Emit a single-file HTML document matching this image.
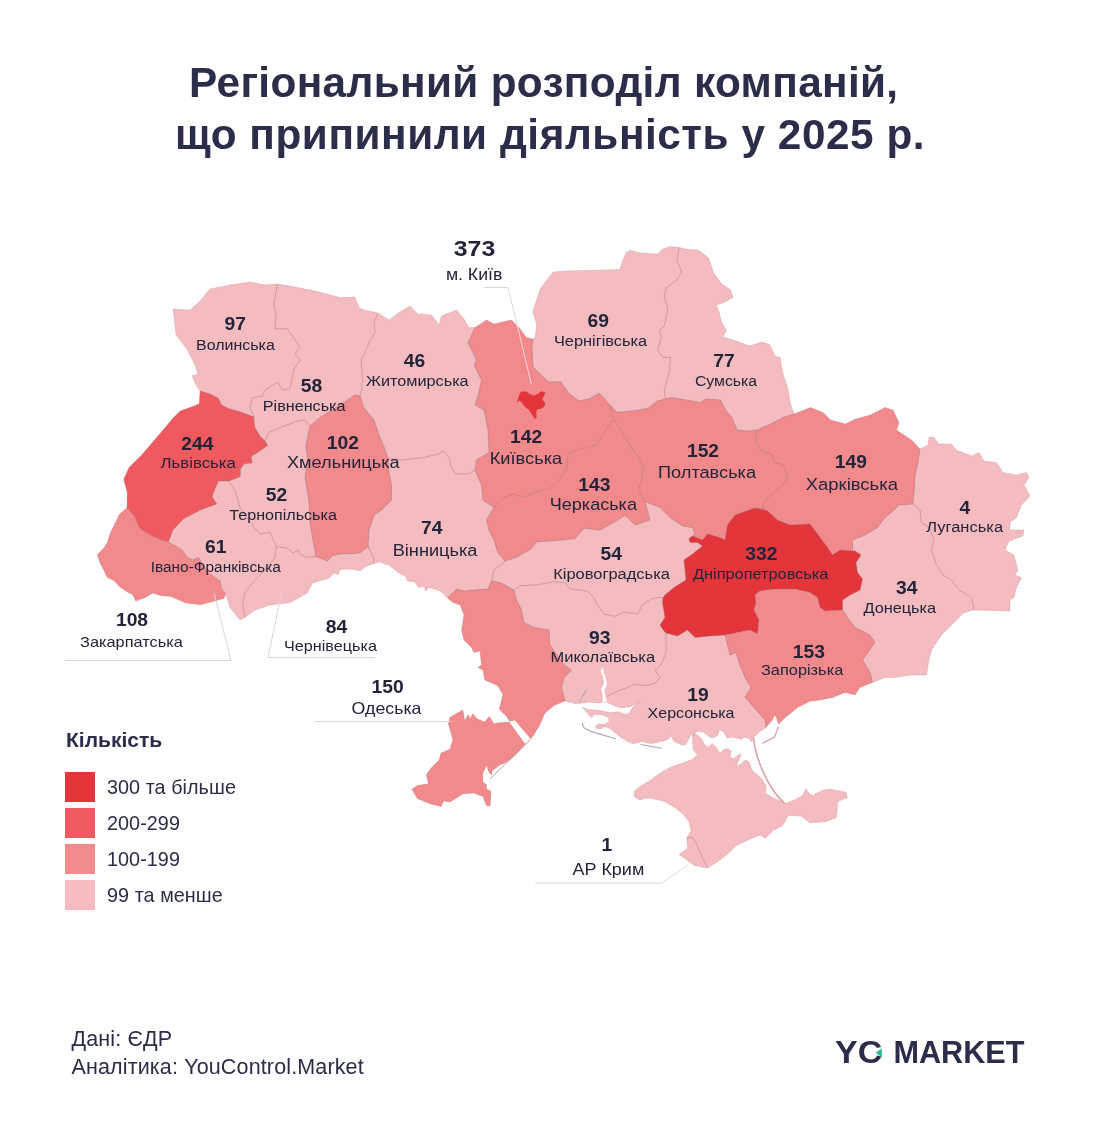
<!DOCTYPE html>
<html lang="uk"><head><meta charset="utf-8"><title>Регіональний розподіл компаній</title>
<style>
html,body{margin:0;padding:0;background:#fff;}
body{width:1098px;height:1130px;position:relative;overflow:hidden;font-family:"Liberation Sans","DejaVu Sans",sans-serif;color:#2a2d47;}
h1 span{position:absolute;white-space:nowrap;display:block;}
h1{position:absolute;left:0;top:56.7px;width:1098px;margin:0;font-size:42.3px;line-height:52px;font-weight:bold;color:#2b2e4a;letter-spacing:0.65px;}
svg.map{position:absolute;left:0;top:0;}
svg.map text{font-family:"Liberation Sans","DejaVu Sans",sans-serif;fill:#23243a;}
svg.map text.n{font-weight:bold;}

.lt{position:absolute;left:66px;top:727.5px;font-size:21px;font-weight:bold;color:#2b2e4a;line-height:24px;}
.sw{position:absolute;left:65px;width:30px;height:30px;}
.sl{position:absolute;left:107px;font-size:19.8px;line-height:22px;color:#2a2d47;letter-spacing:.05px;margin-top:-.2px;}
.ft{position:absolute;left:71.5px;font-size:21.5px;line-height:24px;color:#2a2d47;letter-spacing:.14px;white-space:nowrap;}
</style></head><body>
<h1><span style="left:189px;top:0;letter-spacing:.35px">Регіональний розподіл компаній,</span><span style="left:175px;top:52px;letter-spacing:.55px">що припинили діяльність у 2025 р.</span></h1>
<svg class="map" width="1098" height="1130" viewBox="0 0 1098 1130">
<path d="M173,309 L190,310 L200,301 L210,289 L230,285 L250,282 L265,285 L277.5,284 L290,286 L315,291 L340,297.5 L355,297 L359,307.5 L364,310 L378,313 L389,320 L399,312.5 L410,306 L418,314 L431.5,315 L439,325 L441.5,316 L456.5,310 L464,319 L469,327.5 L475,327.5 L486.5,320 L494,324 L511.5,320 L519,327.5 L526.5,337.5 L533,339 L535.3,337 L536.6,324.3 L532.8,311.5 L537.9,296.2 L540.4,288.6 L548,278.4 L553.2,272 L571,270.7 L596.5,270.2 L619.5,269.4 L622,263 L625.8,252.9 L629.7,250.3 L639.9,252.9 L657.7,254.1 L662.8,249 L670.5,246.5 L679,247.5 L685.8,249 L698.5,250.3 L708.7,258 L713.8,273.3 L721.5,283.5 L730.4,289.8 L733,297.5 L724,302.6 L716.4,305.1 L718.9,311.5 L721.5,321.7 L726.6,330.6 L722.8,337 L731.7,339.6 L749.5,345.9 L762.3,342.1 L769.9,344.7 L775,356.1 L780.1,357.4 L782.7,372.7 L787.8,388 L790.3,403.3 L794,414 L810.5,407.5 L823,412.5 L830.5,420 L845.5,424 L855.5,419 L870.5,415 L885,407.5 L893,410 L899,422.5 L896.5,430 L911.5,440 L920,449 L928,445 L929,437 L934,437.5 L939,444 L951.5,444 L956.5,450 L971.5,456 L979,452.5 L984,461 L996.5,462.5 L1003,472.5 L1016.5,475 L1026.5,472.5 L1029,477.5 L1024,485 L1030,496 L1021.5,505 L1016.5,517.5 L1010,522.5 L1010,530 L1024,530 L1023,536 L1009,541 L1005,550 L1014,555 L1018,570 L1015,575 L1021.5,577.5 L1016.5,587.5 L1014,597.5 L1010,600 L1010,611 L974,610 L964,612.5 L941.5,635 L931.5,650 L929,660 L926.5,675 L911.5,675 L894,677.5 L885,677.5 L872.5,682.5 L860,687.5 L855,695 L845,692.5 L832.5,697.5 L820,700 L810,701.3 L797.5,707.6 L784.8,717.9 L778.4,724.2 L776.5,717.8 L774.6,715.3 L772,720.4 L766,727.5 L759.3,731.9 L754.2,737 L752.9,738.2 L751.6,742 L749,738.2 L744,737 L741.4,739.5 L737.6,738.2 L731.2,737 L727.4,738.2 L723.5,731.9 L719.7,730 L717.2,735.7 L712,738.2 L701.9,731.2 L695.5,731.9 L695,735 L693,735.8 L691.6,732.9 L688.6,739.4 L685.7,744.5 L682.8,745.2 L674.1,741.6 L671.1,735.8 L668.2,739.4 L661,741.6 L650.7,743.8 L642,741.6 L633.3,743.8 L627.4,741.6 L618.7,735.8 L610,728.5 L604.1,726.3 L602.7,728.5 L596.8,728.5 L595.4,726.3 L598.3,724.1 L605.6,724.1 L609.2,721.2 L608.5,717.6 L601.2,714.6 L593.9,714.6 L591.7,717.6 L589.5,715.4 L583.7,708.8 L582.3,707.4 L588,709.5 L598.3,710.3 L610,712.5 L618.7,711.7 L624.5,714.6 L628.9,713.2 L633.3,706.6 L640.5,701.5 L636.2,703.7 L630.3,706.6 L621.6,708 L615.8,706.6 L610,703.7 L607,702.3 L602.7,702.3 L598.3,703 L588,702.3 L583.7,703 L575,703.7 L565,701 L554,705.5 L545,713 L539.5,725.5 L534,734.5 L530,740 L525,744 L517.5,753 L511,759 L506.5,762 L499,765.5 L492,771 L492,774.7 L489.3,772.9 L486.5,765.6 L482.9,772.9 L482.9,782 L486.5,784.7 L486.5,789.3 L491,791 L490.2,805.7 L486.5,805.7 L482.9,796.6 L473.8,792.9 L462.9,793.8 L450,802 L443.7,801 L441,806.6 L430,803.8 L417.3,798.4 L411.9,789.3 L417.3,785.6 L428.3,783.8 L426.4,774.7 L431,768.3 L439.2,760 L441,752.9 L450,749.2 L452.8,740 L451,732.8 L448.3,723.7 L450,717.3 L462.9,710 L464.7,721 L468.3,714.6 L470,719 L472.9,713.7 L477.4,719 L484.7,722 L489.3,716.4 L493.8,723.7 L499.3,722.8 L510.2,722 L506.6,716.4 L499.3,709 L503,694.6 L497.5,685.5 L484.7,680 L483,670 L478,667.5 L481.5,665 L480,651 L474,652.5 L471.5,647.5 L464,640 L461.5,630 L464,615 L460,605 L453,602.5 L447.6,598 L440.3,591 L429.4,587.4 L425.7,591 L423.9,586.5 L418.4,587.4 L414.8,582 L407.5,581 L405.7,576.5 L398.4,572.8 L389.3,565.5 L379.3,562 L373.3,563.7 L365.6,566.4 L360,571 L352.9,569.2 L340,569.2 L338.3,574.6 L334.6,572.8 L329.2,578.3 L312.8,582.8 L307.3,592.9 L298.2,598.3 L290,602.5 L270,605 L255,610 L245,617.5 L240,620 L230,607.5 L225.7,593.8 L223.9,598.4 L214.8,601.1 L200.2,604.8 L185.6,602.9 L171.1,596.6 L160.1,595.6 L152.9,592.9 L145.6,597.5 L135.6,601.1 L132.8,594.7 L127.4,592 L119.2,586.5 L114.6,581.1 L107.3,577.4 L103.7,570.1 L100,562.9 L97.3,554.7 L103.7,548.3 L107.3,542.8 L110,533.7 L114.6,524.6 L119.2,514.6 L127,507.5 L127.3,493 L123.7,479.3 L129.1,467.4 L141.9,454.7 L152.8,441.9 L163.8,429.2 L172.9,418.3 L180.1,411 L192.9,406.4 L199.3,403.7 L200,391 L196,385 L192,375.5 L198,374.5 L195,365 L187.5,350 L176,335 L175,325 L173,309Z" fill="#f4bcbe"/>
<path d="M693,735 L697.4,734.4 L701.9,739.5 L704.4,744.6 L708.3,747.2 L712,743.4 L717.2,748.5 L719.7,753.6 L723.5,749.7 L727.4,748.5 L731.2,751 L730,757.4 L733.7,758.7 L738.8,754.8 L741.4,753.6 L736.3,766.3 L741.4,763.8 L745.2,760 L749,762 L751.6,768.9 L753.3,771.5 L762.1,779.2 L766.4,786.8 L765.4,793.4 L773,797.8 L786.1,803.2 L794.9,799.9 L802.5,795.6 L805.8,788.6 L808,792.3 L812.3,795.6 L823.3,790.1 L829.8,789 L846.2,792.3 L847.3,797.8 L838.6,801 L837.5,804.3 L836.4,817.4 L825.5,821.8 L810.2,822.9 L801.4,816.3 L788.3,815.2 L785,821.8 L781.7,826.2 L773,830.5 L765.4,838.2 L759.9,834.9 L746.8,840.4 L735.8,845.8 L727.1,854.6 L718.4,861.1 L707.4,868.1 L694.3,865.5 L685.6,859 L679,854.6 L687.8,848 L686.7,838.2 L691,830.5 L688.9,821.8 L683.4,814.2 L674.6,807.6 L663.7,801 L648.4,797.8 L639.7,799.9 L634.2,796.7 L634.2,791.2 L639.7,786.8 L648.4,781.4 L659.3,773.7 L667,769.3 L670.3,767.2 L683.4,762.8 L692.1,759.5 L697.6,755.1 L693.2,749.7 L692.1,734.4Z" fill="#f4bcbe"/>
<path d="M200,391 L209.3,393.7 L218.4,398.2 L221.1,404.6 L227.5,408.2 L240.3,411.9 L247.5,414.6 L254,417 L253.9,419.2 L254.8,427.4 L260.3,436.5 L265,441 L267.6,445.6 L258.5,451.9 L251.2,456.5 L252.1,462.9 L243.9,463.8 L240.3,469.3 L240.3,476.5 L231.1,480.2 L228.8,481 L218.4,481.1 L214.8,489.3 L212,496.6 L216.6,503.9 L202,509.3 L183.8,518.4 L172.9,530 L168.3,541.9 L160.1,539.2 L152.9,536.4 L141.9,530 L138.3,525.7 L134.6,516.5 L127,507.5 L127.3,493 L123.7,479.3 L129.1,467.4 L141.9,454.7 L152.8,441.9 L163.8,429.2 L172.9,418.3 L180.1,411 L192.9,406.4 L199.3,403.7 L200,391Z" fill="#f05a5e"/>
<path d="M127,507.5 L134.6,516.5 L138.3,525.7 L141.9,530 L152.9,536.4 L160.1,539.2 L168.3,541.9 L176.5,546.5 L182,550.1 L187.5,557.4 L192.9,560.1 L198.4,557.4 L202,562.9 L207.5,572 L214.8,577.4 L220.3,581.1 L221.2,588.4 L225.7,593.8 L223.9,598.4 L214.8,601.1 L200.2,604.8 L185.6,602.9 L171.1,596.6 L160.1,595.6 L152.9,592.9 L145.6,597.5 L135.6,601.1 L132.8,594.7 L127.4,592 L119.2,586.5 L114.6,581.1 L107.3,577.4 L103.7,570.1 L100,562.9 L97.3,554.7 L103.7,548.3 L107.3,542.8 L110,533.7 L114.6,524.6 L119.2,514.6 L127,507.5Z" fill="#f28a8c"/>
<path d="M310,426 L320,417.5 L340,405 L355,395 L360,396 L364,408 L374,420 L379,435 L384,447 L388,458 L389,472.5 L391.5,485 L391.5,500 L381.5,510 L374,515 L369,530 L368,545 L369,548 L367.4,547.3 L360,552.8 L352.9,553.7 L342,553.7 L332.8,555.5 L327.4,561 L316,556.4 L313.8,545 L310,522.5 L308.8,500 L305,477.5 L307.5,460 L306,445 L310,426Z" fill="#f28a8c"/>
<path d="M475,327.5 L486.5,320 L494,324 L511.5,320 L519,327.5 L526.5,337.5 L533,339 L532,348 L533,367 L544.2,377.8 L549,382 L560.8,381.6 L568.5,393.1 L578.7,400.8 L589,399 L599.1,393.1 L604.2,398.2 L610,405 L614,420 L610,422.5 L603,435 L596.5,445 L581.5,448.8 L568,453.8 L566.5,470 L559,480 L549,488.8 L534,492.5 L524,497.5 L514,493.8 L504,497.5 L494,507.5 L483,500 L481.5,485 L475,470 L476.5,460 L489,452.5 L488,430 L484,410 L475,405 L478,396 L481.5,380 L474,365 L476.5,360 L468,342.5 L475,327.5Z" fill="#f28a8c"/>
<path d="M494,507.5 L504,497.5 L514,493.8 L524,497.5 L534,492.5 L549,488.8 L559,480 L566.5,470 L568,453.8 L581.5,448.8 L596.5,445 L603,435 L610,422.5 L614,420 L624,435 L631.5,447.5 L638.5,457.5 L643,465 L642,480 L638,490 L645,501.5 L650.1,519.8 L635.5,525 L625,515.6 L616.6,520.8 L599.9,530.3 L584.2,528.2 L574.7,538.7 L553.8,540.7 L537,541.8 L530.7,549.1 L516.1,557.5 L505,561 L497.5,552 L494,540 L489,530 L486.5,520 L494,507.5Z" fill="#f28a8c"/>
<path d="M614,420 L610,405 L616.9,412.3 L632.2,411 L647.5,408.4 L657.7,400.8 L665.5,399 L672,397.5 L700.5,402.5 L705.5,399 L720.5,400 L725.5,410 L732,417.5 L737,430 L748,431 L757,430 L755.5,442.5 L760.5,450 L773,455 L774,462.5 L783,465 L788,477.5 L780.5,487.5 L768,497.5 L763,505 L763,509.5 L755,508 L735,515 L727.5,525 L725,540 L720,537.5 L707.5,534 L702.5,540 L692.5,536 L695,534 L692.5,527.5 L682.5,526 L670,517.5 L660,507.5 L645,501.5 L638,490 L642,480 L643,465 L638.5,457.5 L631.5,447.5 L624,435 L614,420Z" fill="#f28a8c"/>
<path d="M757,430 L770.5,424 L783,417.5 L794,414 L810.5,407.5 L823,412.5 L830.5,420 L845.5,424 L855.5,419 L870.5,415 L885,407.5 L893,410 L899,422.5 L896.5,430 L911.5,440 L920,449 L918,462.5 L915,475 L914,492.5 L913,504 L899,505 L894,510 L885,517.5 L877.5,527.5 L865,535 L852.5,540 L852.5,551 L840,550 L832.5,555 L827.5,547.5 L817.5,534 L810,524 L790,525 L777.5,520 L767.5,511 L763,509.5 L763,505 L768,497.5 L780.5,487.5 L788,477.5 L783,465 L774,462.5 L773,455 L760.5,450 L755.5,442.5 L757,430Z" fill="#f28a8c"/>
<path d="M692.5,536 L702.5,540 L707.5,534 L720,537.5 L725,540 L727.5,525 L735,515 L755,508 L763,509.5 L767.5,511 L777.5,520 L790,525 L810,524 L817.5,534 L827.5,547.5 L832.5,555 L840,550 L852.5,551 L855,551 L861,555 L856,562.5 L857.5,572.5 L862.5,579 L860,590 L850,595 L842.5,600 L842.5,610 L825,611 L820,607.5 L817.5,597.5 L810,592.5 L795,589 L775,589 L760,591 L755,595 L756,602.5 L754,610 L759,620 L757.5,634 L750,630 L737.5,632.5 L725,635 L710,636 L695,637.5 L687.5,630 L677.5,636 L666,633 L664,631 L660,625 L665,617.5 L662.5,602.5 L663,598 L665,595 L674,587.5 L686,580 L684,560 L692.5,554 L702.5,546 L697.5,542.5 L690,542.5 L688.8,538.8 L692.5,536Z" fill="#e3353a"/>
<path d="M725,635 L737.5,632.5 L750,630 L757.5,634 L759,620 L754,610 L756,602.5 L755,595 L760,591 L775,589 L795,589 L810,592.5 L817.5,597.5 L820,607.5 L825,611 L842.5,610 L847.5,617.5 L855,627.5 L870,635 L875,642.5 L862.5,660 L870,672.5 L872.5,682.5 L860,687.5 L855,695 L845,692.5 L832.5,697.5 L820,700 L810,701.3 L797.5,707.6 L784.8,717.9 L778.4,724.2 L776.5,717.8 L774.6,715.3 L772,720.4 L766,727.5 L765,720 L754,707.5 L745,697 L751,687.5 L745,677.5 L740,665 L736,652.5 L730,655 L725,635Z" fill="#f28a8c"/>
<path d="M447.6,598 L456.5,589 L464,591 L474,590 L488,589 L491.5,581 L500,582.5 L514,590 L516.5,600 L521.5,610 L524,622.5 L534,627.5 L549,630 L550,645 L564,665 L571.5,670 L564,677.5 L561.5,687.5 L565,701 L554,705.5 L545,713 L539.5,725.5 L534,734.5 L530,740 L525,744 L517.5,753 L511,759 L506.5,762 L499,765.5 L492,771 L492,774.7 L489.3,772.9 L486.5,765.6 L482.9,772.9 L482.9,782 L486.5,784.7 L486.5,789.3 L491,791 L490.2,805.7 L486.5,805.7 L482.9,796.6 L473.8,792.9 L462.9,793.8 L450,802 L443.7,801 L441,806.6 L430,803.8 L417.3,798.4 L411.9,789.3 L417.3,785.6 L428.3,783.8 L426.4,774.7 L431,768.3 L439.2,760 L441,752.9 L450,749.2 L452.8,740 L451,732.8 L448.3,723.7 L450,717.3 L462.9,710 L464.7,721 L468.3,714.6 L470,719 L472.9,713.7 L477.4,719 L484.7,722 L489.3,716.4 L493.8,723.7 L499.3,722.8 L510.2,722 L506.6,716.4 L499.3,709 L503,694.6 L497.5,685.5 L484.7,680 L483,670 L478,667.5 L481.5,665 L480,651 L474,652.5 L471.5,647.5 L464,640 L461.5,630 L464,615 L460,605 L453,602.5 L447.6,598Z" fill="#f28a8c"/>
<path d="M516.6,403 L519.1,395.4 L521,391.6 L526.8,391.6 L530,394.1 L534.4,395.4 L538.2,393.5 L541.4,391.3 L545.9,392.8 L544.6,394.8 L542.1,399.2 L545.3,403 L544,406.9 L540.8,408.8 L537,409.4 L536.3,413.2 L536.6,418.3 L534.7,419 L531.9,414.5 L528.7,409.4 L526.1,408.1 L523.6,405 L521,401.8 L519.1,400.5Z" fill="#e3353a"/>
<path d="M602.7,702.8 L602.7,695 L601.2,689.1 L604.1,683.3 L602.7,676 L600.5,671.7 L602,668 L603.4,668.7 L603.6,673.1 L605.6,677.5 L607,684.8 L604.3,690.6 L605.6,696.4 L607,702.8Z" fill="#fff"/>
<path d="M509,721.5 L515,720.5 L531,739.5 L526,745Z" fill="#fff"/>
<path d="M277.5,284 L273.8,305 L276,313.8 L275,328.8 L287.5,328.8 L295,340 L300,347.5 L295,353.8 L300,360 L293.8,370 L290,388.8 L282.5,390 L277.5,382.5 L265,390 L262.5,396 L252.5,397.5 L250,407.5 L254,417 M200,391 L209.3,393.7 L218.4,398.2 L221.1,404.6 L227.5,408.2 L240.3,411.9 L247.5,414.6 L254,417 M254,417 L253.9,419.2 L254.8,427.4 L260.3,436.5 L265,441 M265,441 L267.6,445.6 L258.5,451.9 L251.2,456.5 L252.1,462.9 L243.9,463.8 L240.3,469.3 L240.3,476.5 L231.1,480.2 L228.8,481 M228.8,481 L218.4,481.1 L214.8,489.3 L212,496.6 L216.6,503.9 L202,509.3 L183.8,518.4 L172.9,530 L168.3,541.9 M127,507.5 L134.6,516.5 L138.3,525.7 L141.9,530 L152.9,536.4 L160.1,539.2 L168.3,541.9 M168.3,541.9 L176.5,546.5 L182,550.1 L187.5,557.4 L192.9,560.1 L198.4,557.4 L202,562.9 L207.5,572 L214.8,577.4 L220.3,581.1 L221.2,588.4 L225.7,593.8 M245,617.5 L242.5,605 L245,592.5 L255,580 L265,570 L275,557.5 L276.5,546.5 M228.8,481 L235,490 L240,507.5 L250,522.5 L260,534 L270,532.5 L276.5,546.5 M276.5,546.5 L287.3,548.2 L292.8,552.8 L298.2,550 L300,554.6 L307.3,557.3 L316,556.4 M265,441 L268.8,432.5 L280,427.5 L297.5,421 L305,420 L310,426 M310,426 L306,445 L307.5,460 L305,477.5 L308.8,500 L310,522.5 L313.8,545 L316,556.4 M316,556.4 L327.4,561 L332.8,555.5 L342,553.7 L352.9,553.7 L360,552.8 L367.4,547.3 L369,548 M369,548 L373.8,559 L373.3,563.7 M310,426 L320,417.5 L340,405 L355,395 L360,396 M378,313 L374,322.5 L375,332.5 L369,342.5 L364,355 L361,360 L362.5,380 L361,392 L360,396 M360,396 L364,408 L374,420 L379,435 L384,447 L388,458 M388,458 L389,472.5 L391.5,485 L391.5,500 L381.5,510 L374,515 L369,530 L368,545 L369,548 M388,458 L401.5,460 L424,457.5 L439,453.8 L444,451 L449,457.5 L451.5,467.5 L455,473.8 L469,473.8 L475,470 M475,327.5 L468,342.5 L476.5,360 L474,365 L481.5,380 L478,396 L475,405 L484,410 L488,430 L489,452.5 L476.5,460 L475,470 M475,470 L481.5,485 L483,500 L494,507.5 M494,507.5 L504,497.5 L514,493.8 L524,497.5 L534,492.5 L549,488.8 L559,480 L566.5,470 L568,453.8 L581.5,448.8 L596.5,445 L603,435 L610,422.5 L614,420 M614,420 L610,405 M533,339 L532,348 L533,367 L544.2,377.8 L549,382 L560.8,381.6 L568.5,393.1 L578.7,400.8 L589,399 L599.1,393.1 L604.2,398.2 L610,405 M610,405 L616.9,412.3 L632.2,411 L647.5,408.4 L657.7,400.8 L665.5,399 M679,247.5 L676.8,260.5 L681.9,272 L675.6,280.9 L666.6,287.3 L664.1,296.2 L667.9,309 L664.1,326.8 L659,330.6 L661.5,337 L657.7,349.8 L662.8,357.4 L670.5,357.4 L669.2,372.7 L664.1,390.6 L665.5,399 M665.5,399 L672,397.5 L700.5,402.5 L705.5,399 L720.5,400 L725.5,410 L732,417.5 L737,430 L748,431 L757,430 M757,430 L770.5,424 L783,417.5 L794,414 M757,430 L755.5,442.5 L760.5,450 L773,455 L774,462.5 L783,465 L788,477.5 L780.5,487.5 L768,497.5 L763,505 L763,509.5 M614,420 L624,435 L631.5,447.5 L638.5,457.5 L643,465 L642,480 L638,490 L645,501.5 M645,501.5 L660,507.5 L670,517.5 L682.5,526 L692.5,527.5 L695,534 L692.5,536 M692.5,536 L702.5,540 L707.5,534 L720,537.5 L725,540 L727.5,525 L735,515 L755,508 L763,509.5 M763,509.5 L767.5,511 L777.5,520 L790,525 L810,524 L817.5,534 L827.5,547.5 L832.5,555 L840,550 L852.5,551 M852.5,551 L852.5,540 L865,535 L877.5,527.5 L885,517.5 L894,510 L899,505 L913,504 M920,449 L918,462.5 L915,475 L914,492.5 L913,504 M913,504 L920,510 L921.5,522.5 L929,527.5 L934,540 L931.5,550 L936.5,565 L943,575 L951.5,580 L959,590 L971.5,597.5 L974,610 M852.5,551 L855,551 L861,555 L856,562.5 L857.5,572.5 L862.5,579 L860,590 L850,595 L842.5,600 L842.5,610 M842.5,610 L847.5,617.5 L855,627.5 L870,635 L875,642.5 L862.5,660 L870,672.5 L872.5,682.5 M842.5,610 L825,611 L820,607.5 L817.5,597.5 L810,592.5 L795,589 L775,589 L760,591 L755,595 L756,602.5 L754,610 L759,620 L757.5,634 L750,630 L737.5,632.5 L725,635 M725,635 L730,655 L736,652.5 L740,665 L745,677.5 L751,687.5 L745,697 L754,707.5 L765,720 L766,727.5 M725,635 L710,636 L695,637.5 L687.5,630 L677.5,636 L666,633 M666,633 L664,631 L660,625 L665,617.5 L662.5,602.5 L663,598 M663,598 L665,595 L674,587.5 L686,580 L684,560 L692.5,554 L702.5,546 L697.5,542.5 L690,542.5 L688.8,538.8 L692.5,536 M666,633 L666,652.5 L661,665 L655,670 L660,677.5 L656.6,681.9 L650.7,684.8 L642,685.5 L634.7,684 L627.4,687.7 L618.7,690.6 L610,695 L607,696.4 M663,598 L658.5,597.3 L650.1,599.4 L641.8,605.7 L637.6,614 L625,612 L614.5,616.2 L604,614 L597.8,605.7 L593.6,597.3 L587.3,591 L570.5,588.9 L564.3,582.6 L553.8,581.6 L539.1,584.7 L520.3,585.8 L514,590 M514,590 L516.5,600 L521.5,610 L524,622.5 L534,627.5 L549,630 L550,645 L564,665 L571.5,670 L564,677.5 L561.5,687.5 L565,701 M514,590 L500,582.5 L491.5,581 M447.6,598 L456.5,589 L464,591 L474,590 L488,589 L491.5,581 M491.5,581 L494,570 L504,562.5 L505,561 M494,507.5 L486.5,520 L489,530 L494,540 L497.5,552 L505,561 M505,561 L516.1,557.5 L530.7,549.1 L537,541.8 L553.8,540.7 L574.7,538.7 L584.2,528.2 L599.9,530.3 L616.6,520.8 L625,515.6 L635.5,525 L650.1,519.8 L645,501.5" fill="none" stroke="#8a6a74" stroke-opacity=".55" stroke-width=".7" stroke-linejoin="round"/>
<path d="M173,309 L190,310 L200,301 L210,289 L230,285 L250,282 L265,285 L277.5,284 L290,286 L315,291 L340,297.5 L355,297 L359,307.5 L364,310 L378,313 L389,320 L399,312.5 L410,306 L418,314 L431.5,315 L439,325 L441.5,316 L456.5,310 L464,319 L469,327.5 L475,327.5 L486.5,320 L494,324 L511.5,320 L519,327.5 L526.5,337.5 L533,339 L535.3,337 L536.6,324.3 L532.8,311.5 L537.9,296.2 L540.4,288.6 L548,278.4 L553.2,272 L571,270.7 L596.5,270.2 L619.5,269.4 L622,263 L625.8,252.9 L629.7,250.3 L639.9,252.9 L657.7,254.1 L662.8,249 L670.5,246.5 L679,247.5 L685.8,249 L698.5,250.3 L708.7,258 L713.8,273.3 L721.5,283.5 L730.4,289.8 L733,297.5 L724,302.6 L716.4,305.1 L718.9,311.5 L721.5,321.7 L726.6,330.6 L722.8,337 L731.7,339.6 L749.5,345.9 L762.3,342.1 L769.9,344.7 L775,356.1 L780.1,357.4 L782.7,372.7 L787.8,388 L790.3,403.3 L794,414 L810.5,407.5 L823,412.5 L830.5,420 L845.5,424 L855.5,419 L870.5,415 L885,407.5 L893,410 L899,422.5 L896.5,430 L911.5,440 L920,449 L928,445 L929,437 L934,437.5 L939,444 L951.5,444 L956.5,450 L971.5,456 L979,452.5 L984,461 L996.5,462.5 L1003,472.5 L1016.5,475 L1026.5,472.5 L1029,477.5 L1024,485 L1030,496 L1021.5,505 L1016.5,517.5 L1010,522.5 L1010,530 L1024,530 L1023,536 L1009,541 L1005,550 L1014,555 L1018,570 L1015,575 L1021.5,577.5 L1016.5,587.5 L1014,597.5 L1010,600 L1010,611 L974,610 L964,612.5 L941.5,635 L931.5,650 L929,660 L926.5,675 L911.5,675 L894,677.5 L885,677.5 L872.5,682.5 L860,687.5 L855,695 L845,692.5 L832.5,697.5 L820,700 L810,701.3 L797.5,707.6 L784.8,717.9 L778.4,724.2 L776.5,717.8 L774.6,715.3 L772,720.4 L766,727.5 L759.3,731.9 L754.2,737 L752.9,738.2 L751.6,742 L749,738.2 L744,737 L741.4,739.5 L737.6,738.2 L731.2,737 L727.4,738.2 L723.5,731.9 L719.7,730 L717.2,735.7 L712,738.2 L701.9,731.2 L695.5,731.9 L695,735 L693,735.8 L691.6,732.9 L688.6,739.4 L685.7,744.5 L682.8,745.2 L674.1,741.6 L671.1,735.8 L668.2,739.4 L661,741.6 L650.7,743.8 L642,741.6 L633.3,743.8 L627.4,741.6 L618.7,735.8 L610,728.5 L604.1,726.3 L602.7,728.5 L596.8,728.5 L595.4,726.3 L598.3,724.1 L605.6,724.1 L609.2,721.2 L608.5,717.6 L601.2,714.6 L593.9,714.6 L591.7,717.6 L589.5,715.4 L583.7,708.8 L582.3,707.4 L588,709.5 L598.3,710.3 L610,712.5 L618.7,711.7 L624.5,714.6 L628.9,713.2 L633.3,706.6 L640.5,701.5 L636.2,703.7 L630.3,706.6 L621.6,708 L615.8,706.6 L610,703.7 L607,702.3 L602.7,702.3 L598.3,703 L588,702.3 L583.7,703 L575,703.7 L565,701 L554,705.5 L545,713 L539.5,725.5 L534,734.5 L530,740 L525,744 L517.5,753 L511,759 L506.5,762 L499,765.5 L492,771 L492,774.7 L489.3,772.9 L486.5,765.6 L482.9,772.9 L482.9,782 L486.5,784.7 L486.5,789.3 L491,791 L490.2,805.7 L486.5,805.7 L482.9,796.6 L473.8,792.9 L462.9,793.8 L450,802 L443.7,801 L441,806.6 L430,803.8 L417.3,798.4 L411.9,789.3 L417.3,785.6 L428.3,783.8 L426.4,774.7 L431,768.3 L439.2,760 L441,752.9 L450,749.2 L452.8,740 L451,732.8 L448.3,723.7 L450,717.3 L462.9,710 L464.7,721 L468.3,714.6 L470,719 L472.9,713.7 L477.4,719 L484.7,722 L489.3,716.4 L493.8,723.7 L499.3,722.8 L510.2,722 L506.6,716.4 L499.3,709 L503,694.6 L497.5,685.5 L484.7,680 L483,670 L478,667.5 L481.5,665 L480,651 L474,652.5 L471.5,647.5 L464,640 L461.5,630 L464,615 L460,605 L453,602.5 L447.6,598 L440.3,591 L429.4,587.4 L425.7,591 L423.9,586.5 L418.4,587.4 L414.8,582 L407.5,581 L405.7,576.5 L398.4,572.8 L389.3,565.5 L379.3,562 L373.3,563.7 L365.6,566.4 L360,571 L352.9,569.2 L340,569.2 L338.3,574.6 L334.6,572.8 L329.2,578.3 L312.8,582.8 L307.3,592.9 L298.2,598.3 L290,602.5 L270,605 L255,610 L245,617.5 L240,620 L230,607.5 L225.7,593.8 L223.9,598.4 L214.8,601.1 L200.2,604.8 L185.6,602.9 L171.1,596.6 L160.1,595.6 L152.9,592.9 L145.6,597.5 L135.6,601.1 L132.8,594.7 L127.4,592 L119.2,586.5 L114.6,581.1 L107.3,577.4 L103.7,570.1 L100,562.9 L97.3,554.7 L103.7,548.3 L107.3,542.8 L110,533.7 L114.6,524.6 L119.2,514.6 L127,507.5 L127.3,493 L123.7,479.3 L129.1,467.4 L141.9,454.7 L152.8,441.9 L163.8,429.2 L172.9,418.3 L180.1,411 L192.9,406.4 L199.3,403.7 L200,391 L196,385 L192,375.5 L198,374.5 L195,365 L187.5,350 L176,335 L175,325 L173,309Z M693,735 L697.4,734.4 L701.9,739.5 L704.4,744.6 L708.3,747.2 L712,743.4 L717.2,748.5 L719.7,753.6 L723.5,749.7 L727.4,748.5 L731.2,751 L730,757.4 L733.7,758.7 L738.8,754.8 L741.4,753.6 L736.3,766.3 L741.4,763.8 L745.2,760 L749,762 L751.6,768.9 L753.3,771.5 L762.1,779.2 L766.4,786.8 L765.4,793.4 L773,797.8 L786.1,803.2 L794.9,799.9 L802.5,795.6 L805.8,788.6 L808,792.3 L812.3,795.6 L823.3,790.1 L829.8,789 L846.2,792.3 L847.3,797.8 L838.6,801 L837.5,804.3 L836.4,817.4 L825.5,821.8 L810.2,822.9 L801.4,816.3 L788.3,815.2 L785,821.8 L781.7,826.2 L773,830.5 L765.4,838.2 L759.9,834.9 L746.8,840.4 L735.8,845.8 L727.1,854.6 L718.4,861.1 L707.4,868.1 L694.3,865.5 L685.6,859 L679,854.6 L687.8,848 L686.7,838.2 L691,830.5 L688.9,821.8 L683.4,814.2 L674.6,807.6 L663.7,801 L648.4,797.8 L639.7,799.9 L634.2,796.7 L634.2,791.2 L639.7,786.8 L648.4,781.4 L659.3,773.7 L667,769.3 L670.3,767.2 L683.4,762.8 L692.1,759.5 L697.6,755.1 L693.2,749.7 L692.1,734.4Z" fill="none" stroke="#b98a92" stroke-opacity=".5" stroke-width=".6" stroke-linejoin="round"/>
<path d="M686.7,838.2 L692.1,837.1 L696.5,843.7 L700.9,854.6 L707.4,867.7" fill="none" stroke="#8a6a74" stroke-opacity=".55" stroke-width=".7"/>
<path d="M753.5,738 Q755,756 767,780 Q775,795 784.7,803.3" fill="none" stroke="#d9a3aa" stroke-width="1.6"/>
<path d="M582.3,722.7 Q582.5,727 585.2,728.5 Q591,732 598.3,733.6 L615.8,738.7" fill="none" stroke="#b3a3b3" stroke-width="1.1"/>
<path d="M579.3,702.3 L586.6,689 M583,696 L586,692" fill="none" stroke="#b3a3b3" stroke-width=".9"/>
<path d="M640.5,744.5 L661.7,748.2" fill="none" stroke="#b3a3b3" stroke-width="1.1"/>
<path d="M762.4,743.4 L774.5,737 L778.4,726.8" fill="none" stroke="#d9a3aa" stroke-width="1.2"/>
<path d="M490,779 L530,740" fill="none" stroke="#b9a0ac" stroke-width="1"/>
<g fill="none" stroke="#d6d7dd" stroke-width="1">
<path d="M484,287.5 L508,287.5 L517.2,325"/>
<path d="M517.2,325 L531.3,384" stroke="#fbe3e4" stroke-opacity=".85"/>
<path d="M65.5,660.5 L231,660.5 L214,593"/>
<path d="M375,657.5 L268,657.5 L281,596"/>
<path d="M314,721.5 L452,721.5"/>
<path d="M535,883 L662,883 L687.5,865"/>
</g>
<text class="n" font-size="22.00" transform="translate(453.8,256.0) scale(1.13,1)">373</text>
<text class="t" font-size="16.37" transform="translate(445.9,280.0) scale(1.08,1)">м. Київ</text>
<text class="n" font-size="18.20" transform="translate(224.5,330.0) scale(1.06,1)">97</text>
<text class="t" font-size="14.82" transform="translate(196.0,350.4) scale(1.08,1)">Волинська</text>
<text class="n" font-size="18.20" transform="translate(587.4,326.6) scale(1.06,1)">69</text>
<text class="t" font-size="15.17" transform="translate(553.9,346.0) scale(1.08,1)">Чернігівська</text>
<text class="n" font-size="18.20" transform="translate(713.2,366.5) scale(1.06,1)">77</text>
<text class="t" font-size="14.66" transform="translate(694.9,385.5) scale(1.08,1)">Сумська</text>
<text class="n" font-size="18.20" transform="translate(403.8,366.6) scale(1.06,1)">46</text>
<text class="t" font-size="15.04" transform="translate(366.0,385.5) scale(1.08,1)">Житомирська</text>
<text class="n" font-size="18.20" transform="translate(300.8,392.2) scale(1.06,1)">58</text>
<text class="t" font-size="14.97" transform="translate(262.8,410.6) scale(1.08,1)">Рівненська</text>
<text class="n" font-size="18.20" transform="translate(181.2,449.7) scale(1.06,1)">244</text>
<text class="t" font-size="15.55" transform="translate(160.6,468.4) scale(1.08,1)">Львівська</text>
<text class="n" font-size="18.20" transform="translate(326.7,449.4) scale(1.06,1)">102</text>
<text class="t" font-size="16.83" transform="translate(287.0,467.8) scale(1.08,1)">Хмельницька</text>
<text class="n" font-size="18.20" transform="translate(510.1,443.3) scale(1.06,1)">142</text>
<text class="t" font-size="16.89" transform="translate(489.7,464.2) scale(1.08,1)">Київська</text>
<text class="n" font-size="18.20" transform="translate(686.9,457.0) scale(1.06,1)">152</text>
<text class="t" font-size="16.84" transform="translate(658.0,478.3) scale(1.08,1)">Полтавська</text>
<text class="n" font-size="18.20" transform="translate(834.8,468.4) scale(1.06,1)">149</text>
<text class="t" font-size="17.11" transform="translate(805.7,490.4) scale(1.08,1)">Харківська</text>
<text class="n" font-size="18.20" transform="translate(578.3,491.0) scale(1.06,1)">143</text>
<text class="t" font-size="16.74" transform="translate(549.7,510.0) scale(1.08,1)">Черкаська</text>
<text class="n" font-size="18.20" transform="translate(265.8,501.3) scale(1.06,1)">52</text>
<text class="t" font-size="14.93" transform="translate(229.3,519.5) scale(1.08,1)">Тернопільська</text>
<text class="n" font-size="18.20" transform="translate(959.6,513.5) scale(1.06,1)">4</text>
<text class="t" font-size="15.28" transform="translate(926.3,531.5) scale(1.08,1)">Луганська</text>
<text class="n" font-size="18.20" transform="translate(421.1,534.2) scale(1.06,1)">74</text>
<text class="t" font-size="16.85" transform="translate(392.7,555.6) scale(1.08,1)">Вінницька</text>
<text class="n" font-size="18.20" transform="translate(600.6,560.3) scale(1.06,1)">54</text>
<text class="t" font-size="15.24" transform="translate(553.2,578.8) scale(1.08,1)">Кіровоградська</text>
<text class="n" font-size="18.20" transform="translate(745.2,559.5) scale(1.06,1)">332</text>
<text class="t" font-size="15.12" transform="translate(693.0,579.0) scale(1.08,1)">Дніпропетровська</text>
<text class="n" font-size="18.20" transform="translate(205.1,553.1) scale(1.06,1)">61</text>
<text class="t" font-size="14.29" transform="translate(150.7,571.6) scale(1.08,1)">Івано-Франківська</text>
<text class="n" font-size="18.20" transform="translate(896.0,594.2) scale(1.06,1)">34</text>
<text class="t" font-size="15.12" transform="translate(863.4,613.4) scale(1.08,1)">Донецька</text>
<text class="n" font-size="18.20" transform="translate(115.9,626.4) scale(1.06,1)">108</text>
<text class="t" font-size="15.16" transform="translate(80.0,646.6) scale(1.08,1)">Закарпатська</text>
<text class="n" font-size="18.20" transform="translate(325.7,632.5) scale(1.06,1)">84</text>
<text class="t" font-size="14.97" transform="translate(284.1,651.0) scale(1.08,1)">Чернівецька</text>
<text class="n" font-size="18.20" transform="translate(588.9,644.3) scale(1.06,1)">93</text>
<text class="t" font-size="15.27" transform="translate(550.5,661.6) scale(1.08,1)">Миколаївська</text>
<text class="n" font-size="18.20" transform="translate(792.8,657.7) scale(1.06,1)">153</text>
<text class="t" font-size="15.15" transform="translate(761.0,674.7) scale(1.08,1)">Запорізька</text>
<text class="n" font-size="18.20" transform="translate(371.5,693.1) scale(1.06,1)">150</text>
<text class="t" font-size="16.47" transform="translate(351.6,713.5) scale(1.08,1)">Одеська</text>
<text class="n" font-size="18.20" transform="translate(687.3,700.6) scale(1.06,1)">19</text>
<text class="t" font-size="14.81" transform="translate(647.6,717.7) scale(1.08,1)">Херсонська</text>
<text class="n" font-size="18.20" transform="translate(601.4,850.8) scale(1.06,1)">1</text>
<text class="t" font-size="16.66" transform="translate(572.4,875.3) scale(1.08,1)">АР Крим</text>
<text transform="translate(835,1063.3) scale(1.08,1)" x="0 21" font-size="31.5" font-weight="bold" style="fill:#2b2e4a">YC</text>
<text x="893.5" y="1063.3" font-size="31.5" font-weight="bold" style="fill:#2b2e4a" textLength="131" lengthAdjust="spacingAndGlyphs">MARKET</text>
<path d="M881.9,1048.2 L881.9,1057.2 L875.6,1052.7 Z" fill="#2ebd85"/>
</svg>
<div class="lt">Кількість</div>
<div class="sw" style="top:772px;background:#e3353a"></div><div class="sl" style="top:776px">300 та більше</div>
<div class="sw" style="top:808px;background:#f05a5e"></div><div class="sl" style="top:812px">200-299</div>
<div class="sw" style="top:844px;background:#f28a8c"></div><div class="sl" style="top:848px">100-199</div>
<div class="sw" style="top:880px;background:#f4bcbe"></div><div class="sl" style="top:884px">99 та менше</div>
<div class="ft" style="top:1027.1px">Дані: ЄДР</div>
<div class="ft" style="top:1054.5px">Аналітика: YouControl.Market</div>

</body></html>
